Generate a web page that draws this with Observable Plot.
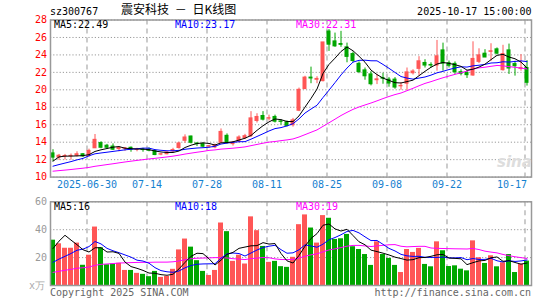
<!DOCTYPE html>
<html><head><meta charset="utf-8">
<script src="https://cdn.jsdelivr.net/npm/d3@7"></script>
<script src="https://cdn.jsdelivr.net/npm/@observablehq/plot@0.6"></script>
<style>
html,body{margin:0;padding:0;background:#fff;}
#wrap{position:relative;width:545px;height:300px;overflow:hidden;font-family:"DejaVu Sans Mono",monospace;font-size:10px;}
.t{position:absolute;white-space:pre;line-height:1;}
#wrap svg{position:absolute;left:0;}
</style></head><body><div id="wrap"></div>
<script>
// ---- data ----
const dates = ["2025-06-20","2025-06-23","2025-06-24","2025-06-25","2025-06-26","2025-06-27","2025-06-30","2025-07-01","2025-07-02","2025-07-03",
"2025-07-04","2025-07-07","2025-07-08","2025-07-09","2025-07-10","2025-07-11","2025-07-14","2025-07-15","2025-07-16","2025-07-17",
"2025-07-18","2025-07-21","2025-07-22","2025-07-23","2025-07-24","2025-07-25","2025-07-28","2025-07-29","2025-07-30","2025-07-31",
"2025-08-01","2025-08-04","2025-08-05","2025-08-06","2025-08-07","2025-08-08","2025-08-11","2025-08-12","2025-08-13","2025-08-14",
"2025-08-15","2025-08-18","2025-08-19","2025-08-20","2025-08-21","2025-08-22","2025-08-25","2025-08-26","2025-08-27","2025-08-28",
"2025-08-29","2025-09-01","2025-09-02","2025-09-03","2025-09-04","2025-09-05","2025-09-08","2025-09-09","2025-09-10","2025-09-11",
"2025-09-12","2025-09-15","2025-09-16","2025-09-17","2025-09-18","2025-09-19","2025-09-22","2025-09-23","2025-09-24","2025-09-25",
"2025-09-26","2025-09-29","2025-09-30","2025-10-09","2025-10-10","2025-10-13","2025-10-14","2025-10-15","2025-10-16","2025-10-17"];
const open = [12.72,12.23,12.38,12.40,12.45,12.62,12.45,13.30,13.90,13.60,
13.50,13.21,13.26,13.36,13.12,13.14,13.14,12.98,12.58,12.62,
12.95,13.33,14.16,14.65,13.85,13.78,13.50,13.40,13.93,14.73,
13.78,14.08,14.46,14.69,16.43,17.00,16.70,16.89,16.38,16.28,
15.95,17.60,20.08,21.40,21.15,21.00,26.68,25.55,25.25,24.87,
24.10,22.98,22.23,21.77,21.10,21.35,21.17,21.17,20.40,20.70,
21.90,22.40,23.08,22.85,22.78,24.52,23.05,22.97,22.02,21.95,
21.64,23.20,24.14,24.35,24.64,22.25,24.52,22.95,22.40,22.50];
const high = [13.14,12.60,12.60,12.65,12.90,12.70,13.20,14.88,14.05,13.75,
13.80,13.40,13.40,13.45,13.30,13.30,13.35,13.10,12.72,12.90,
13.30,14.00,14.84,14.70,13.93,13.93,13.63,13.78,15.52,14.95,
14.08,14.73,14.90,17.50,17.26,17.50,17.10,17.10,16.58,16.43,
16.73,20.20,21.55,22.60,21.50,25.43,26.90,26.50,26.70,25.35,
24.33,23.20,22.50,22.08,21.77,21.90,21.40,21.40,20.83,22.50,
22.30,23.80,23.45,23.10,25.66,25.35,23.30,23.20,22.30,22.20,
25.50,24.70,24.60,25.28,24.80,25.10,25.24,23.27,24.03,23.35];
const low = [11.77,11.92,11.95,11.95,12.30,12.25,12.26,13.30,13.25,13.20,
13.05,12.90,12.95,12.85,12.90,12.85,12.90,12.45,12.45,12.55,
12.80,13.20,13.86,13.80,13.50,13.36,13.30,13.25,13.93,13.78,
13.55,13.93,14.30,14.54,16.20,16.43,16.43,16.20,15.95,15.75,
15.73,17.50,20.08,20.70,20.70,20.90,24.40,24.87,24.87,23.10,
23.10,21.85,21.10,20.45,20.60,20.64,20.30,20.07,19.95,19.90,
21.70,21.60,22.50,22.50,22.14,22.14,22.50,21.76,21.60,21.30,
21.55,23.00,23.70,23.27,24.00,22.14,21.76,21.57,22.14,20.43];
const close = [12.23,12.45,12.42,12.43,12.62,12.38,13.00,14.27,13.36,13.36,
13.14,13.36,13.30,13.14,13.14,13.10,13.02,12.53,12.62,12.83,
13.10,13.86,14.54,13.93,13.78,13.48,13.55,13.63,15.18,13.93,
13.93,14.54,14.69,16.73,16.89,16.58,16.75,16.35,16.33,15.86,
16.50,20.00,21.40,21.30,21.25,25.43,25.17,24.98,25.15,23.77,
23.30,22.04,21.55,20.64,21.20,21.28,20.72,20.26,20.45,22.00,
22.10,23.27,22.78,22.78,23.84,23.00,22.75,22.02,21.83,21.68,
23.54,23.95,23.70,24.42,24.14,24.10,22.44,22.70,22.50,20.80];
const volume = [32.5,29.9,26.7,26.7,30.4,14.5,21.7,41.9,27.0,14.9,
15.4,15.9,10.8,10.8,8.7,8.0,6.3,10.1,5.8,6.5,
11.6,25.5,33.3,27.5,17.8,10.1,7.2,10.8,44.8,38.6,
17.3,21.7,15.4,49.2,39.3,28.0,16.6,17.3,13.5,13.0,
20.2,43.6,50.6,41.2,30.4,50.1,48.2,33.0,33.5,36.6,
27.8,25.8,22.2,14.4,31.3,22.2,19.4,14.4,9.3,25.8,
23.7,26.6,15.1,13.4,31.3,24.9,13.6,14.1,11.7,10.5,
32.0,19.9,15.8,21.3,13.4,16.3,22.2,9.3,15.3,17.5];
// estimated closes / volumes of the 29 sessions before the window (only feed the moving averages)
const preClose = [10.5,10.6,10.4,10.3,10.2,10.3,10.4,10.5,10.4,10.3,10.2,10.3,10.4,10.5,10.6,10.5,10.4,10.3,10.4,10.3,
10.6,10.7,10.75,10.62,10.7,10.0,12.0,12.4,12.5];
const preVolume = [6,5,7,6,5,6,5,6,7,6,5,6,6,5,6,7,6,5,6,5,
6.5,7,6.5,7,6.5,3.4,5.7,44,46.9];
const priceTicks = [10,12,14,16,18,20,22,24,26,28];
const volTicks = [20,40,60];
const tickDates = ["2025-06-30","2025-07-14","2025-07-28","2025-08-11","2025-08-25","2025-09-08","2025-09-22","2025-10-17"];
const tickLabels = ["2025-06-30","07-14","07-28","08-11","08-25","09-08","09-22","10-17"];
const priceMALabels = ["MA5:22.49","MA10:23.17","MA30:22.31"];
const volMALabels = ["MA5:16","MA10:18","MA30:19"];
const stockCode = "sz300767";
const title = "震安科技 － 日K线图";
const stamp = "2025-10-17 15:00:00";
const unitLabel = "x万";
const copyright = "Copyright 2025 SINA.COM";
const site = "http://finance.sina.com.cn";

// ---- derived ----
function movingAvg(pre, vals, n) {
  const all = pre.concat(vals);
  return vals.map((_, i) => d3.mean(all.slice(i + pre.length - n + 1, i + pre.length + 1)));
}
const pMA5 = movingAvg(preClose, close, 5), pMA10 = movingAvg(preClose, close, 10), pMA30 = movingAvg(preClose, close, 30);
const vMA5 = movingAvg(preVolume, volume, 5), vMA10 = movingAvg(preVolume, volume, 10), vMA30 = movingAvg(preVolume, volume, 30);
const RED = "#ff5656", GREEN = "#00a600";
const bars = dates.map((d, i) => ({
  i, date: d, o: open[i], h: high[i], l: low[i], c: close[i], v: volume[i],
  col: close[i] >= open[i] ? RED : GREEN,
  p5: pMA5[i], p10: pMA10[i], p30: pMA30[i], v5: vMA5[i], v10: vMA10[i], v30: vMA30[i]
}));
const tickIdx = tickDates.map(d => dates.indexOf(d));
const tickRows = tickIdx.map((x, k) => ({x, label: tickLabels[k]}));

const xOpt = {type: "linear", domain: [-0.4167, 79.75], axis: null};
const wrap = document.getElementById("wrap");

const price = Plot.plot({
  width: 545, height: 192, marginTop: 19.5, marginBottom: 15.4, marginLeft: 50, marginRight: 14,
  x: xOpt, y: {domain: [10, 28]}, color: {type: "identity"},
  style: {fontFamily: "DejaVu Sans Mono, monospace", fontSize: "10px", color: "#f00", background: "transparent", overflow: "visible"},
  marks: [
    Plot.gridY(priceTicks, {stroke: "#9a9a9a", strokeOpacity: 1, strokeDasharray: "1.2,2"}),
    Plot.ruleX(tickIdx, {x: d => d, stroke: "#aaa", strokeWidth: 1.2, strokeDasharray: "5,4", dx: -2}),
    Plot.ruleX(bars, {x: "i", y1: "l", y2: "h", stroke: "col", strokeWidth: 1}),
    Plot.rect(bars, {x1: d => d.i - 1/3, x2: d => d.i + 1/3, y1: d => Math.min(d.o, d.c), y2: d => Math.max(d.o, d.c), fill: "col", insetTop: -0.5, insetBottom: -0.5}),
    Plot.line(bars, {x: "i", y: "p30", stroke: "#ff00ff", strokeWidth: 1}),
    Plot.line(bars, {x: "i", y: "p10", stroke: "#0000ff", strokeWidth: 1}),
    Plot.line(bars, {x: "i", y: "p5", stroke: "#000", strokeWidth: 1}),
    Plot.axisY({ticks: priceTicks, tickSize: 0, tickPadding: 3.5, label: null}),
    Plot.text(tickRows.slice(0, -1), {x: "x", text: "label", frameAnchor: "bottom", dy: 10.5, dx: -2, fill: "#1580cf"}),
    Plot.text(tickRows.slice(-1), {x: "x", text: "label", frameAnchor: "bottom", dy: 10.5, textAnchor: "end", fill: "#1580cf"}),
    Plot.frame({stroke: "#999", strokeWidth: 1.5})
  ]
});
price.style.top = "0px";
wrap.appendChild(price);

const vol = Plot.plot({
  width: 545, height: 108, marginTop: 9.3, marginBottom: 15, marginLeft: 50, marginRight: 14,
  x: xOpt, y: {domain: [0, 60]}, color: {type: "identity"},
  style: {fontFamily: "DejaVu Sans Mono, monospace", fontSize: "10px", color: "#999", background: "transparent", overflow: "visible"},
  marks: [
    Plot.gridY(volTicks, {stroke: "#9a9a9a", strokeOpacity: 1, strokeDasharray: "1.2,2"}),
    Plot.ruleX(tickIdx, {x: d => d, stroke: "#aaa", strokeWidth: 1.2, strokeDasharray: "5,4", dx: -2}),
    Plot.rectY(bars, {x1: d => d.i - 0.4167, x2: d => d.i + 0.4167, y: "v", fill: "col"}),
    Plot.line(bars, {x: "i", y: "v30", stroke: "#ff00ff", strokeWidth: 1}),
    Plot.line(bars, {x: "i", y: "v10", stroke: "#0000ff", strokeWidth: 1}),
    Plot.line(bars, {x: "i", y: "v5", stroke: "#000", strokeWidth: 1}),
    Plot.axisY({ticks: volTicks, tickSize: 0, tickPadding: 3.5, label: null}),
    Plot.frame({stroke: "#999", strokeWidth: 1.5})
  ]
});
vol.style.top = "192px";
wrap.appendChild(vol);

function addText(str, css) {
  const s = document.createElement("div");
  s.className = "t";
  s.textContent = str;
  Object.assign(s.style, css);
  wrap.appendChild(s);
}
addText(stockCode, {left: "50px", top: "7px", color: "#000"});
addText(title, {left: "121px", top: "3px", color: "#000", fontFamily: "'Noto Sans CJK SC', sans-serif", fontSize: "12px", wordSpacing: "3px"});
addText(stamp, {right: "13.5px", top: "7px", color: "#000"});
const maCols = ["#000", "#0000ff", "#ff00ff"];
const maLeft = [54, 175, 296];
priceMALabels.forEach((s, k) => addText(s, {left: maLeft[k] + "px", top: "20px", color: maCols[k]}));
volMALabels.forEach((s, k) => addText(s, {left: maLeft[k] + "px", top: "201.5px", color: maCols[k]}));
addText(unitLabel, {left: "29px", top: "281px", color: "#aaa"});
addText(copyright, {left: "50px", top: "288px", color: "#666"});
addText(site, {right: "14px", top: "288px", color: "#666"});
addText("sina", {left: "497px", top: "155px", color: "#ddd", fontFamily: "'DejaVu Sans', sans-serif", fontSize: "15px", fontWeight: "bold", fontStyle: "italic"});
</script></body></html>
